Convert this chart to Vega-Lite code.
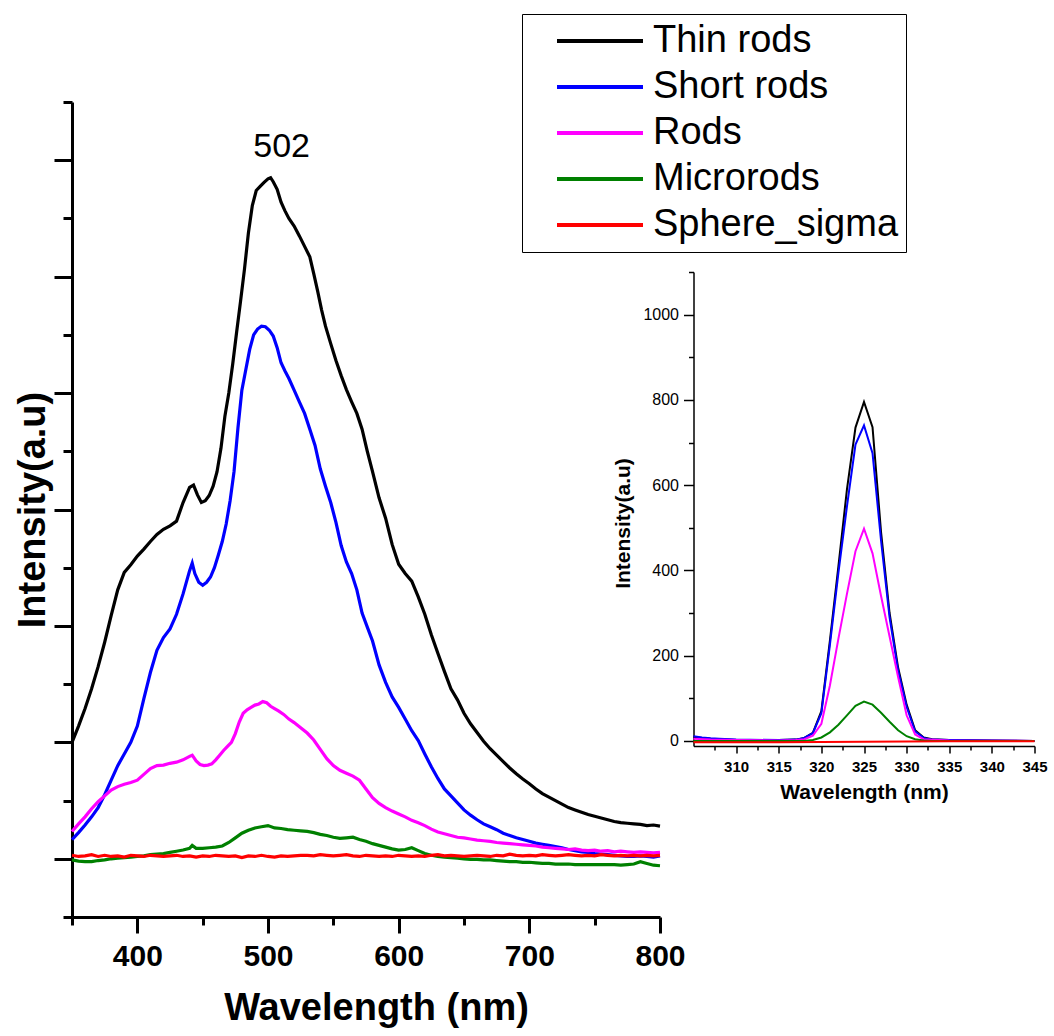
{
"$schema": "https://vega.github.io/schema/vega-lite/v6.json",
"background": "white",
"padding": {"left": 14, "top": 13, "right": 4, "bottom": 2},
"config": {"view": {"stroke": null}, "font": "Liberation Sans", "axis": {"grid": false, "domainColor": "#000", "tickColor": "#000", "labelColor": "#000", "titleColor": "#000"}},
"bounds": "flush",
"spacing": 33.5,
"resolve": {"scale": {"color": "independent"}, "legend": {"color": "independent"}},
"datasets": {
"main": [
{"sample":"Thin rods","wl":350,"int":200},{"sample":"Thin rods","wl":355,"int":228},{"sample":"Thin rods","wl":360,"int":258},{"sample":"Thin rods","wl":365,"int":292},{"sample":"Thin rods","wl":370,"int":330},{"sample":"Thin rods","wl":375,"int":372},{"sample":"Thin rods","wl":380,"int":418},{"sample":"Thin rods","wl":385,"int":462},{"sample":"Thin rods","wl":390,"int":492},{"sample":"Thin rods","wl":395,"int":505},{"sample":"Thin rods","wl":400,"int":520},{"sample":"Thin rods","wl":405,"int":532},{"sample":"Thin rods","wl":410,"int":545},{"sample":"Thin rods","wl":415,"int":557},{"sample":"Thin rods","wl":420,"int":566},{"sample":"Thin rods","wl":425,"int":572},{"sample":"Thin rods","wl":430,"int":580},{"sample":"Thin rods","wl":435,"int":612},{"sample":"Thin rods","wl":440,"int":638},{"sample":"Thin rods","wl":443,"int":642},{"sample":"Thin rods","wl":446,"int":625},{"sample":"Thin rods","wl":449,"int":612},{"sample":"Thin rods","wl":452,"int":615},{"sample":"Thin rods","wl":455,"int":624},{"sample":"Thin rods","wl":458,"int":640},{"sample":"Thin rods","wl":461,"int":665},{"sample":"Thin rods","wl":464,"int":705},{"sample":"Thin rods","wl":467,"int":760},{"sample":"Thin rods","wl":470,"int":800},{"sample":"Thin rods","wl":473,"int":850},{"sample":"Thin rods","wl":476,"int":905},{"sample":"Thin rods","wl":479,"int":958},{"sample":"Thin rods","wl":482,"int":1013},{"sample":"Thin rods","wl":485,"int":1075},{"sample":"Thin rods","wl":488,"int":1122},{"sample":"Thin rods","wl":491,"int":1148},{"sample":"Thin rods","wl":494,"int":1155},{"sample":"Thin rods","wl":497,"int":1162},{"sample":"Thin rods","wl":500,"int":1168},{"sample":"Thin rods","wl":502,"int":1170},{"sample":"Thin rods","wl":504,"int":1163},{"sample":"Thin rods","wl":507,"int":1150},{"sample":"Thin rods","wl":510,"int":1128},{"sample":"Thin rods","wl":513,"int":1113},{"sample":"Thin rods","wl":516,"int":1100},{"sample":"Thin rods","wl":520,"int":1087},{"sample":"Thin rods","wl":524,"int":1070},{"sample":"Thin rods","wl":528,"int":1052},{"sample":"Thin rods","wl":532,"int":1034},{"sample":"Thin rods","wl":535,"int":1005},{"sample":"Thin rods","wl":538,"int":975},{"sample":"Thin rods","wl":541,"int":943},{"sample":"Thin rods","wl":544,"int":915},{"sample":"Thin rods","wl":548,"int":885},{"sample":"Thin rods","wl":552,"int":856},{"sample":"Thin rods","wl":556,"int":830},{"sample":"Thin rods","wl":560,"int":806},{"sample":"Thin rods","wl":564,"int":785},{"sample":"Thin rods","wl":568,"int":765},{"sample":"Thin rods","wl":572,"int":738},{"sample":"Thin rods","wl":576,"int":700},{"sample":"Thin rods","wl":580,"int":665},{"sample":"Thin rods","wl":585,"int":620},{"sample":"Thin rods","wl":590,"int":585},{"sample":"Thin rods","wl":595,"int":540},{"sample":"Thin rods","wl":600,"int":506},{"sample":"Thin rods","wl":605,"int":490},{"sample":"Thin rods","wl":610,"int":477},{"sample":"Thin rods","wl":615,"int":450},{"sample":"Thin rods","wl":620,"int":420},{"sample":"Thin rods","wl":625,"int":385},{"sample":"Thin rods","wl":630,"int":353},{"sample":"Thin rods","wl":635,"int":322},{"sample":"Thin rods","wl":640,"int":292},{"sample":"Thin rods","wl":645,"int":273},{"sample":"Thin rods","wl":650,"int":250},{"sample":"Thin rods","wl":655,"int":232},{"sample":"Thin rods","wl":660,"int":217},{"sample":"Thin rods","wl":665,"int":202},{"sample":"Thin rods","wl":670,"int":189},{"sample":"Thin rods","wl":675,"int":178},{"sample":"Thin rods","wl":680,"int":167},{"sample":"Thin rods","wl":685,"int":156},{"sample":"Thin rods","wl":690,"int":146},{"sample":"Thin rods","wl":695,"int":137},{"sample":"Thin rods","wl":700,"int":129},{"sample":"Thin rods","wl":705,"int":120},{"sample":"Thin rods","wl":710,"int":112},{"sample":"Thin rods","wl":715,"int":106},{"sample":"Thin rods","wl":720,"int":100},{"sample":"Thin rods","wl":725,"int":94},{"sample":"Thin rods","wl":730,"int":88},{"sample":"Thin rods","wl":735,"int":84},{"sample":"Thin rods","wl":740,"int":80},{"sample":"Thin rods","wl":745,"int":76},{"sample":"Thin rods","wl":750,"int":73},{"sample":"Thin rods","wl":755,"int":70},{"sample":"Thin rods","wl":760,"int":67},{"sample":"Thin rods","wl":765,"int":64},{"sample":"Thin rods","wl":770,"int":62},{"sample":"Thin rods","wl":775,"int":61},{"sample":"Thin rods","wl":780,"int":60},{"sample":"Thin rods","wl":785,"int":59},{"sample":"Thin rods","wl":790,"int":57},{"sample":"Thin rods","wl":795,"int":58},{"sample":"Thin rods","wl":800,"int":56},
{"sample":"Short rods","wl":350,"int":33},{"sample":"Short rods","wl":355,"int":45},{"sample":"Short rods","wl":360,"int":58},{"sample":"Short rods","wl":365,"int":72},{"sample":"Short rods","wl":370,"int":88},{"sample":"Short rods","wl":375,"int":110},{"sample":"Short rods","wl":380,"int":135},{"sample":"Short rods","wl":385,"int":160},{"sample":"Short rods","wl":390,"int":180},{"sample":"Short rods","wl":395,"int":200},{"sample":"Short rods","wl":400,"int":228},{"sample":"Short rods","wl":405,"int":275},{"sample":"Short rods","wl":410,"int":320},{"sample":"Short rods","wl":415,"int":358},{"sample":"Short rods","wl":420,"int":380},{"sample":"Short rods","wl":425,"int":395},{"sample":"Short rods","wl":430,"int":420},{"sample":"Short rods","wl":435,"int":455},{"sample":"Short rods","wl":440,"int":495},{"sample":"Short rods","wl":442,"int":508},{"sample":"Short rods","wl":444,"int":490},{"sample":"Short rods","wl":447,"int":475},{"sample":"Short rods","wl":450,"int":470},{"sample":"Short rods","wl":453,"int":475},{"sample":"Short rods","wl":456,"int":484},{"sample":"Short rods","wl":459,"int":500},{"sample":"Short rods","wl":462,"int":522},{"sample":"Short rods","wl":465,"int":545},{"sample":"Short rods","wl":468,"int":575},{"sample":"Short rods","wl":471,"int":615},{"sample":"Short rods","wl":474,"int":665},{"sample":"Short rods","wl":477,"int":740},{"sample":"Short rods","wl":480,"int":805},{"sample":"Short rods","wl":483,"int":840},{"sample":"Short rods","wl":486,"int":875},{"sample":"Short rods","wl":489,"int":900},{"sample":"Short rods","wl":492,"int":910},{"sample":"Short rods","wl":495,"int":915},{"sample":"Short rods","wl":498,"int":914},{"sample":"Short rods","wl":501,"int":908},{"sample":"Short rods","wl":504,"int":898},{"sample":"Short rods","wl":507,"int":878},{"sample":"Short rods","wl":510,"int":852},{"sample":"Short rods","wl":513,"int":838},{"sample":"Short rods","wl":516,"int":825},{"sample":"Short rods","wl":520,"int":805},{"sample":"Short rods","wl":524,"int":785},{"sample":"Short rods","wl":528,"int":765},{"sample":"Short rods","wl":532,"int":738},{"sample":"Short rods","wl":536,"int":710},{"sample":"Short rods","wl":540,"int":670},{"sample":"Short rods","wl":544,"int":640},{"sample":"Short rods","wl":548,"int":612},{"sample":"Short rods","wl":552,"int":578},{"sample":"Short rods","wl":556,"int":538},{"sample":"Short rods","wl":560,"int":510},{"sample":"Short rods","wl":564,"int":490},{"sample":"Short rods","wl":568,"int":462},{"sample":"Short rods","wl":572,"int":422},{"sample":"Short rods","wl":576,"int":398},{"sample":"Short rods","wl":580,"int":374},{"sample":"Short rods","wl":585,"int":333},{"sample":"Short rods","wl":590,"int":303},{"sample":"Short rods","wl":595,"int":278},{"sample":"Short rods","wl":600,"int":260},{"sample":"Short rods","wl":605,"int":240},{"sample":"Short rods","wl":610,"int":220},{"sample":"Short rods","wl":615,"int":203},{"sample":"Short rods","wl":620,"int":180},{"sample":"Short rods","wl":625,"int":158},{"sample":"Short rods","wl":630,"int":138},{"sample":"Short rods","wl":635,"int":120},{"sample":"Short rods","wl":640,"int":108},{"sample":"Short rods","wl":645,"int":96},{"sample":"Short rods","wl":650,"int":84},{"sample":"Short rods","wl":655,"int":75},{"sample":"Short rods","wl":660,"int":67},{"sample":"Short rods","wl":665,"int":60},{"sample":"Short rods","wl":670,"int":55},{"sample":"Short rods","wl":675,"int":50},{"sample":"Short rods","wl":680,"int":44},{"sample":"Short rods","wl":685,"int":40},{"sample":"Short rods","wl":690,"int":36},{"sample":"Short rods","wl":695,"int":33},{"sample":"Short rods","wl":700,"int":30},{"sample":"Short rods","wl":705,"int":27},{"sample":"Short rods","wl":710,"int":25},{"sample":"Short rods","wl":715,"int":23},{"sample":"Short rods","wl":720,"int":21},{"sample":"Short rods","wl":725,"int":19},{"sample":"Short rods","wl":730,"int":16},{"sample":"Short rods","wl":735,"int":14},{"sample":"Short rods","wl":740,"int":12},{"sample":"Short rods","wl":745,"int":11},{"sample":"Short rods","wl":750,"int":9},{"sample":"Short rods","wl":755,"int":8},{"sample":"Short rods","wl":760,"int":7},{"sample":"Short rods","wl":765,"int":6},{"sample":"Short rods","wl":770,"int":5},{"sample":"Short rods","wl":775,"int":4},{"sample":"Short rods","wl":780,"int":4},{"sample":"Short rods","wl":785,"int":5},{"sample":"Short rods","wl":790,"int":4},{"sample":"Short rods","wl":795,"int":3},{"sample":"Short rods","wl":800,"int":5},
{"sample":"Rods","wl":350,"int":47},{"sample":"Rods","wl":355,"int":60},{"sample":"Rods","wl":360,"int":72},{"sample":"Rods","wl":365,"int":86},{"sample":"Rods","wl":370,"int":98},{"sample":"Rods","wl":375,"int":108},{"sample":"Rods","wl":380,"int":118},{"sample":"Rods","wl":385,"int":124},{"sample":"Rods","wl":390,"int":128},{"sample":"Rods","wl":395,"int":131},{"sample":"Rods","wl":400,"int":135},{"sample":"Rods","wl":405,"int":145},{"sample":"Rods","wl":410,"int":155},{"sample":"Rods","wl":415,"int":160},{"sample":"Rods","wl":420,"int":161},{"sample":"Rods","wl":425,"int":164},{"sample":"Rods","wl":430,"int":166},{"sample":"Rods","wl":435,"int":170},{"sample":"Rods","wl":440,"int":176},{"sample":"Rods","wl":442,"int":178},{"sample":"Rods","wl":445,"int":168},{"sample":"Rods","wl":448,"int":162},{"sample":"Rods","wl":451,"int":160},{"sample":"Rods","wl":454,"int":161},{"sample":"Rods","wl":457,"int":163},{"sample":"Rods","wl":460,"int":170},{"sample":"Rods","wl":463,"int":178},{"sample":"Rods","wl":466,"int":186},{"sample":"Rods","wl":469,"int":193},{"sample":"Rods","wl":472,"int":200},{"sample":"Rods","wl":475,"int":215},{"sample":"Rods","wl":478,"int":235},{"sample":"Rods","wl":481,"int":250},{"sample":"Rods","wl":484,"int":256},{"sample":"Rods","wl":487,"int":260},{"sample":"Rods","wl":490,"int":264},{"sample":"Rods","wl":493,"int":266},{"sample":"Rods","wl":496,"int":270},{"sample":"Rods","wl":499,"int":268},{"sample":"Rods","wl":502,"int":262},{"sample":"Rods","wl":505,"int":258},{"sample":"Rods","wl":508,"int":254},{"sample":"Rods","wl":512,"int":248},{"sample":"Rods","wl":516,"int":240},{"sample":"Rods","wl":520,"int":234},{"sample":"Rods","wl":525,"int":225},{"sample":"Rods","wl":530,"int":216},{"sample":"Rods","wl":535,"int":204},{"sample":"Rods","wl":540,"int":188},{"sample":"Rods","wl":545,"int":172},{"sample":"Rods","wl":550,"int":160},{"sample":"Rods","wl":555,"int":152},{"sample":"Rods","wl":560,"int":147},{"sample":"Rods","wl":565,"int":142},{"sample":"Rods","wl":570,"int":135},{"sample":"Rods","wl":575,"int":120},{"sample":"Rods","wl":580,"int":105},{"sample":"Rods","wl":585,"int":95},{"sample":"Rods","wl":590,"int":88},{"sample":"Rods","wl":595,"int":82},{"sample":"Rods","wl":600,"int":77},{"sample":"Rods","wl":605,"int":72},{"sample":"Rods","wl":610,"int":66},{"sample":"Rods","wl":615,"int":62},{"sample":"Rods","wl":620,"int":57},{"sample":"Rods","wl":625,"int":51},{"sample":"Rods","wl":630,"int":46},{"sample":"Rods","wl":635,"int":43},{"sample":"Rods","wl":640,"int":40},{"sample":"Rods","wl":645,"int":37},{"sample":"Rods","wl":650,"int":36},{"sample":"Rods","wl":655,"int":34},{"sample":"Rods","wl":660,"int":32},{"sample":"Rods","wl":665,"int":31},{"sample":"Rods","wl":670,"int":30},{"sample":"Rods","wl":675,"int":28},{"sample":"Rods","wl":680,"int":27},{"sample":"Rods","wl":685,"int":26},{"sample":"Rods","wl":690,"int":25},{"sample":"Rods","wl":695,"int":24},{"sample":"Rods","wl":700,"int":23},{"sample":"Rods","wl":705,"int":22},{"sample":"Rods","wl":710,"int":20},{"sample":"Rods","wl":715,"int":19},{"sample":"Rods","wl":720,"int":18},{"sample":"Rods","wl":725,"int":17},{"sample":"Rods","wl":730,"int":16},{"sample":"Rods","wl":735,"int":17},{"sample":"Rods","wl":740,"int":15},{"sample":"Rods","wl":745,"int":14},{"sample":"Rods","wl":750,"int":15},{"sample":"Rods","wl":755,"int":13},{"sample":"Rods","wl":760,"int":14},{"sample":"Rods","wl":765,"int":12},{"sample":"Rods","wl":770,"int":13},{"sample":"Rods","wl":775,"int":12},{"sample":"Rods","wl":780,"int":11},{"sample":"Rods","wl":785,"int":12},{"sample":"Rods","wl":790,"int":11},{"sample":"Rods","wl":795,"int":10},{"sample":"Rods","wl":800,"int":11},
{"sample":"Microrods","wl":350,"int":-2},{"sample":"Microrods","wl":355,"int":-4},{"sample":"Microrods","wl":360,"int":-5},{"sample":"Microrods","wl":365,"int":-5},{"sample":"Microrods","wl":370,"int":-3},{"sample":"Microrods","wl":375,"int":-2},{"sample":"Microrods","wl":380,"int":0},{"sample":"Microrods","wl":385,"int":1},{"sample":"Microrods","wl":390,"int":2},{"sample":"Microrods","wl":395,"int":3},{"sample":"Microrods","wl":400,"int":4},{"sample":"Microrods","wl":405,"int":5},{"sample":"Microrods","wl":410,"int":7},{"sample":"Microrods","wl":415,"int":8},{"sample":"Microrods","wl":420,"int":9},{"sample":"Microrods","wl":425,"int":11},{"sample":"Microrods","wl":430,"int":13},{"sample":"Microrods","wl":435,"int":15},{"sample":"Microrods","wl":440,"int":18},{"sample":"Microrods","wl":442,"int":23},{"sample":"Microrods","wl":445,"int":18},{"sample":"Microrods","wl":450,"int":18},{"sample":"Microrods","wl":455,"int":19},{"sample":"Microrods","wl":460,"int":20},{"sample":"Microrods","wl":465,"int":22},{"sample":"Microrods","wl":470,"int":28},{"sample":"Microrods","wl":475,"int":36},{"sample":"Microrods","wl":480,"int":44},{"sample":"Microrods","wl":485,"int":49},{"sample":"Microrods","wl":490,"int":53},{"sample":"Microrods","wl":495,"int":55},{"sample":"Microrods","wl":500,"int":57},{"sample":"Microrods","wl":505,"int":53},{"sample":"Microrods","wl":510,"int":52},{"sample":"Microrods","wl":515,"int":50},{"sample":"Microrods","wl":520,"int":49},{"sample":"Microrods","wl":525,"int":48},{"sample":"Microrods","wl":530,"int":47},{"sample":"Microrods","wl":535,"int":45},{"sample":"Microrods","wl":540,"int":42},{"sample":"Microrods","wl":545,"int":40},{"sample":"Microrods","wl":550,"int":37},{"sample":"Microrods","wl":555,"int":35},{"sample":"Microrods","wl":560,"int":36},{"sample":"Microrods","wl":565,"int":37},{"sample":"Microrods","wl":570,"int":33},{"sample":"Microrods","wl":575,"int":30},{"sample":"Microrods","wl":580,"int":26},{"sample":"Microrods","wl":585,"int":23},{"sample":"Microrods","wl":590,"int":20},{"sample":"Microrods","wl":595,"int":17},{"sample":"Microrods","wl":600,"int":15},{"sample":"Microrods","wl":605,"int":16},{"sample":"Microrods","wl":610,"int":19},{"sample":"Microrods","wl":615,"int":14},{"sample":"Microrods","wl":620,"int":9},{"sample":"Microrods","wl":625,"int":6},{"sample":"Microrods","wl":630,"int":4},{"sample":"Microrods","wl":635,"int":3},{"sample":"Microrods","wl":640,"int":2},{"sample":"Microrods","wl":645,"int":1},{"sample":"Microrods","wl":650,"int":0},{"sample":"Microrods","wl":655,"int":-1},{"sample":"Microrods","wl":660,"int":-1},{"sample":"Microrods","wl":665,"int":-2},{"sample":"Microrods","wl":670,"int":-2},{"sample":"Microrods","wl":675,"int":-3},{"sample":"Microrods","wl":680,"int":-4},{"sample":"Microrods","wl":685,"int":-5},{"sample":"Microrods","wl":690,"int":-5},{"sample":"Microrods","wl":695,"int":-6},{"sample":"Microrods","wl":700,"int":-6},{"sample":"Microrods","wl":705,"int":-7},{"sample":"Microrods","wl":710,"int":-8},{"sample":"Microrods","wl":715,"int":-8},{"sample":"Microrods","wl":720,"int":-9},{"sample":"Microrods","wl":725,"int":-9},{"sample":"Microrods","wl":730,"int":-9},{"sample":"Microrods","wl":735,"int":-10},{"sample":"Microrods","wl":740,"int":-10},{"sample":"Microrods","wl":745,"int":-10},{"sample":"Microrods","wl":750,"int":-10},{"sample":"Microrods","wl":755,"int":-10},{"sample":"Microrods","wl":760,"int":-10},{"sample":"Microrods","wl":765,"int":-10},{"sample":"Microrods","wl":770,"int":-11},{"sample":"Microrods","wl":775,"int":-10},{"sample":"Microrods","wl":780,"int":-9},{"sample":"Microrods","wl":785,"int":-5},{"sample":"Microrods","wl":790,"int":-8},{"sample":"Microrods","wl":795,"int":-11},{"sample":"Microrods","wl":800,"int":-12},
{"sample":"Sphere_sigma","wl":350,"int":6},{"sample":"Sphere_sigma","wl":355,"int":4},{"sample":"Sphere_sigma","wl":360,"int":5},{"sample":"Sphere_sigma","wl":365,"int":7},{"sample":"Sphere_sigma","wl":370,"int":4},{"sample":"Sphere_sigma","wl":375,"int":6},{"sample":"Sphere_sigma","wl":380,"int":4},{"sample":"Sphere_sigma","wl":385,"int":5},{"sample":"Sphere_sigma","wl":390,"int":3},{"sample":"Sphere_sigma","wl":395,"int":6},{"sample":"Sphere_sigma","wl":400,"int":5},{"sample":"Sphere_sigma","wl":405,"int":4},{"sample":"Sphere_sigma","wl":410,"int":6},{"sample":"Sphere_sigma","wl":415,"int":5},{"sample":"Sphere_sigma","wl":420,"int":4},{"sample":"Sphere_sigma","wl":425,"int":5},{"sample":"Sphere_sigma","wl":430,"int":6},{"sample":"Sphere_sigma","wl":435,"int":4},{"sample":"Sphere_sigma","wl":440,"int":5},{"sample":"Sphere_sigma","wl":445,"int":3},{"sample":"Sphere_sigma","wl":450,"int":5},{"sample":"Sphere_sigma","wl":455,"int":4},{"sample":"Sphere_sigma","wl":460,"int":6},{"sample":"Sphere_sigma","wl":465,"int":5},{"sample":"Sphere_sigma","wl":470,"int":4},{"sample":"Sphere_sigma","wl":475,"int":5},{"sample":"Sphere_sigma","wl":480,"int":2},{"sample":"Sphere_sigma","wl":485,"int":5},{"sample":"Sphere_sigma","wl":490,"int":4},{"sample":"Sphere_sigma","wl":495,"int":6},{"sample":"Sphere_sigma","wl":500,"int":4},{"sample":"Sphere_sigma","wl":505,"int":3},{"sample":"Sphere_sigma","wl":510,"int":5},{"sample":"Sphere_sigma","wl":515,"int":4},{"sample":"Sphere_sigma","wl":520,"int":5},{"sample":"Sphere_sigma","wl":525,"int":6},{"sample":"Sphere_sigma","wl":530,"int":6},{"sample":"Sphere_sigma","wl":535,"int":5},{"sample":"Sphere_sigma","wl":540,"int":7},{"sample":"Sphere_sigma","wl":545,"int":6},{"sample":"Sphere_sigma","wl":550,"int":5},{"sample":"Sphere_sigma","wl":555,"int":6},{"sample":"Sphere_sigma","wl":560,"int":7},{"sample":"Sphere_sigma","wl":565,"int":5},{"sample":"Sphere_sigma","wl":570,"int":4},{"sample":"Sphere_sigma","wl":575,"int":6},{"sample":"Sphere_sigma","wl":580,"int":5},{"sample":"Sphere_sigma","wl":585,"int":4},{"sample":"Sphere_sigma","wl":590,"int":5},{"sample":"Sphere_sigma","wl":595,"int":4},{"sample":"Sphere_sigma","wl":600,"int":6},{"sample":"Sphere_sigma","wl":605,"int":5},{"sample":"Sphere_sigma","wl":610,"int":4},{"sample":"Sphere_sigma","wl":615,"int":5},{"sample":"Sphere_sigma","wl":620,"int":4},{"sample":"Sphere_sigma","wl":625,"int":6},{"sample":"Sphere_sigma","wl":630,"int":7},{"sample":"Sphere_sigma","wl":635,"int":5},{"sample":"Sphere_sigma","wl":640,"int":6},{"sample":"Sphere_sigma","wl":645,"int":5},{"sample":"Sphere_sigma","wl":650,"int":4},{"sample":"Sphere_sigma","wl":655,"int":5},{"sample":"Sphere_sigma","wl":660,"int":6},{"sample":"Sphere_sigma","wl":665,"int":5},{"sample":"Sphere_sigma","wl":670,"int":4},{"sample":"Sphere_sigma","wl":675,"int":6},{"sample":"Sphere_sigma","wl":680,"int":5},{"sample":"Sphere_sigma","wl":685,"int":8},{"sample":"Sphere_sigma","wl":690,"int":6},{"sample":"Sphere_sigma","wl":695,"int":5},{"sample":"Sphere_sigma","wl":700,"int":6},{"sample":"Sphere_sigma","wl":705,"int":5},{"sample":"Sphere_sigma","wl":710,"int":7},{"sample":"Sphere_sigma","wl":715,"int":6},{"sample":"Sphere_sigma","wl":720,"int":5},{"sample":"Sphere_sigma","wl":725,"int":6},{"sample":"Sphere_sigma","wl":730,"int":7},{"sample":"Sphere_sigma","wl":735,"int":6},{"sample":"Sphere_sigma","wl":740,"int":5},{"sample":"Sphere_sigma","wl":745,"int":6},{"sample":"Sphere_sigma","wl":750,"int":5},{"sample":"Sphere_sigma","wl":755,"int":7},{"sample":"Sphere_sigma","wl":760,"int":6},{"sample":"Sphere_sigma","wl":765,"int":5},{"sample":"Sphere_sigma","wl":770,"int":6},{"sample":"Sphere_sigma","wl":775,"int":5},{"sample":"Sphere_sigma","wl":780,"int":6},{"sample":"Sphere_sigma","wl":785,"int":5},{"sample":"Sphere_sigma","wl":790,"int":6},{"sample":"Sphere_sigma","wl":795,"int":5},{"sample":"Sphere_sigma","wl":800,"int":6}
],
"inset": [
{"sample":"Thin rods","wl":305,"int":9},{"sample":"Thin rods","wl":306,"int":7},{"sample":"Thin rods","wl":307,"int":5},{"sample":"Thin rods","wl":308,"int":4},{"sample":"Thin rods","wl":310,"int":2},{"sample":"Thin rods","wl":315,"int":2},{"sample":"Thin rods","wl":317,"int":3},{"sample":"Thin rods","wl":318,"int":7},{"sample":"Thin rods","wl":319,"int":19},{"sample":"Thin rods","wl":320,"int":70},{"sample":"Thin rods","wl":321,"int":235},{"sample":"Thin rods","wl":322,"int":410},{"sample":"Thin rods","wl":323,"int":590},{"sample":"Thin rods","wl":324,"int":735},{"sample":"Thin rods","wl":325,"int":795},{"sample":"Thin rods","wl":326,"int":736},{"sample":"Thin rods","wl":327,"int":490},{"sample":"Thin rods","wl":328,"int":300},{"sample":"Thin rods","wl":329,"int":172},{"sample":"Thin rods","wl":330,"int":85},{"sample":"Thin rods","wl":331,"int":25},{"sample":"Thin rods","wl":332,"int":8},{"sample":"Thin rods","wl":333,"int":4},{"sample":"Thin rods","wl":335,"int":2},{"sample":"Thin rods","wl":340,"int":1},{"sample":"Thin rods","wl":345,"int":0},
{"sample":"Short rods","wl":305,"int":11},{"sample":"Short rods","wl":306,"int":8},{"sample":"Short rods","wl":307,"int":6},{"sample":"Short rods","wl":308,"int":5},{"sample":"Short rods","wl":310,"int":3},{"sample":"Short rods","wl":315,"int":2},{"sample":"Short rods","wl":317,"int":3},{"sample":"Short rods","wl":318,"int":7},{"sample":"Short rods","wl":319,"int":18},{"sample":"Short rods","wl":320,"int":65},{"sample":"Short rods","wl":321,"int":225},{"sample":"Short rods","wl":322,"int":395},{"sample":"Short rods","wl":323,"int":550},{"sample":"Short rods","wl":324,"int":695},{"sample":"Short rods","wl":325,"int":740},{"sample":"Short rods","wl":326,"int":675},{"sample":"Short rods","wl":327,"int":470},{"sample":"Short rods","wl":328,"int":290},{"sample":"Short rods","wl":329,"int":165},{"sample":"Short rods","wl":330,"int":80},{"sample":"Short rods","wl":331,"int":22},{"sample":"Short rods","wl":332,"int":7},{"sample":"Short rods","wl":333,"int":3},{"sample":"Short rods","wl":335,"int":2},{"sample":"Short rods","wl":340,"int":1},{"sample":"Short rods","wl":345,"int":0},
{"sample":"Rods","wl":305,"int":5},{"sample":"Rods","wl":307,"int":3},{"sample":"Rods","wl":310,"int":2},{"sample":"Rods","wl":315,"int":1},{"sample":"Rods","wl":317,"int":2},{"sample":"Rods","wl":318,"int":4},{"sample":"Rods","wl":319,"int":12},{"sample":"Rods","wl":320,"int":40},{"sample":"Rods","wl":321,"int":130},{"sample":"Rods","wl":322,"int":240},{"sample":"Rods","wl":323,"int":345},{"sample":"Rods","wl":324,"int":445},{"sample":"Rods","wl":325,"int":498},{"sample":"Rods","wl":326,"int":440},{"sample":"Rods","wl":327,"int":340},{"sample":"Rods","wl":328,"int":245},{"sample":"Rods","wl":329,"int":150},{"sample":"Rods","wl":330,"int":60},{"sample":"Rods","wl":331,"int":15},{"sample":"Rods","wl":332,"int":4},{"sample":"Rods","wl":335,"int":1},{"sample":"Rods","wl":345,"int":0},
{"sample":"Microrods","wl":305,"int":0},{"sample":"Microrods","wl":318,"int":0},{"sample":"Microrods","wl":319,"int":2},{"sample":"Microrods","wl":320,"int":8},{"sample":"Microrods","wl":321,"int":20},{"sample":"Microrods","wl":322,"int":38},{"sample":"Microrods","wl":323,"int":60},{"sample":"Microrods","wl":324,"int":82},{"sample":"Microrods","wl":325,"int":92},{"sample":"Microrods","wl":326,"int":85},{"sample":"Microrods","wl":327,"int":66},{"sample":"Microrods","wl":328,"int":45},{"sample":"Microrods","wl":329,"int":25},{"sample":"Microrods","wl":330,"int":11},{"sample":"Microrods","wl":331,"int":4},{"sample":"Microrods","wl":332,"int":1},{"sample":"Microrods","wl":333,"int":0},{"sample":"Microrods","wl":345,"int":0},
{"sample":"Sphere_sigma","wl":305,"int":-3},{"sample":"Sphere_sigma","wl":315,"int":-3},{"sample":"Sphere_sigma","wl":325,"int":-2},{"sample":"Sphere_sigma","wl":335,"int":-1},{"sample":"Sphere_sigma","wl":345,"int":-1}
]
},
"hconcat": [
{
"width": 588,
"height": 815,
"layer": [
{
"data": {"name": "main"},
"mark": {"type": "line", "strokeWidth": 3.2},
"encoding": {
"x": {"field": "wl", "type": "quantitative", "scale": {"domain": [350, 800], "nice": false, "zero": false},
"axis": {"orient": "bottom", "values": [400, 500, 600, 700, 800], "tickSize": 16, "tickWidth": 3, "domainWidth": 3, "labelFont": "Liberation Sans", "labelFontWeight": "bold", "labelFontSize": 30, "labelPadding": 8, "labelFlush": false, "title": "Wavelength (nm)", "titleFont": "Liberation Sans", "titleFontSize": 38, "titleFontWeight": "bold", "titlePadding": 18, "titleX": 304}},
"y": {"field": "int", "type": "quantitative", "scale": {"domain": [-100, 1300], "nice": false, "zero": false},
"axis": {"orient": "left", "values": [0, 200, 400, 600, 800, 1000, 1200], "tickSize": 18, "tickWidth": 3, "domainWidth": 3, "labels": false, "title": "Intensity(a.u)", "titleFont": "Liberation Sans", "titleFontSize": 38, "titleFontWeight": "bold", "titlePadding": 0}},
"color": {"field": "sample", "type": "nominal",
"scale": {"domain": ["Thin rods", "Short rods", "Rods", "Microrods", "Sphere_sigma"], "range": ["#000000", "#0000ff", "#ff00ff", "#008000", "#ff0000"]},
"legend": {"orient": "none", "legendX": 450, "legendY": -88, "title": " ", "titleOrient": "left", "titleFontSize": 1, "titlePadding": 26, "padding": 7, "rowPadding": 6, "clipHeight": 40, "labelFont": "Liberation Sans", "labelFontSize": 38, "labelColor": "#000", "labelOffset": 8, "labelLimit": 500, "symbolType": "stroke", "symbolSize": 7396, "symbolStrokeWidth": 4, "strokeColor": "#000000", "fillColor": "#ffffff"}}
}
},
{
"data": {"values": [{"wl": 502, "int": 1223, "label": "502"}]},
"mark": {"type": "text", "dx": 11, "fontSize": 34, "font": "Liberation Sans", "baseline": "middle", "align": "center", "color": "#000"},
"encoding": {
"x": {"field": "wl", "type": "quantitative", "axis": {"orient": "bottom", "values": [350, 450, 550, 650, 750], "tickSize": 8, "tickWidth": 3, "domain": false, "labels": false, "title": null}},
"y": {"field": "int", "type": "quantitative", "axis": {"orient": "left", "values": [-100, 100, 300, 500, 700, 900, 1100, 1300], "tickSize": 9, "tickWidth": 3, "domain": false, "labels": false, "title": null}},
"text": {"field": "label"}
}
}
],
"resolve": {"axis": {"x": "independent", "y": "independent"}}
},
{
"vconcat": [
{
"width": 341,
"height": 160,
"data": {"values": [{}]},
"mark": {"type": "point", "opacity": 0}
},
{
"width": 341,
"height": 474,
"data": {"name": "inset"},
"layer": [
{
"transform": [{"filter": "datum.sample !== 'Sphere_sigma'"}],
"mark": {"type": "line", "strokeWidth": 2},
"encoding": {
"x": {"field": "wl", "type": "quantitative", "scale": {"domain": [305, 345], "nice": false, "zero": false},
"axis": {"orient": "bottom", "values": [310, 315, 320, 325, 330, 335, 340, 345], "tickSize": 7, "tickWidth": 1.5, "domainWidth": 1.5, "labelFont": "Liberation Sans", "labelFontWeight": "bold", "labelFontSize": 15, "labelPadding": 6, "labelFlush": false, "title": "Wavelength (nm)", "titleFont": "Liberation Sans", "titleFontSize": 21, "titleFontWeight": "bold", "titlePadding": 7}},
"y": {"field": "int", "type": "quantitative", "scale": {"domain": [-12, 1100], "nice": false, "zero": false},
"axis": {"orient": "left", "values": [0, 200, 400, 600, 800, 1000], "format": "d", "tickSize": 10, "tickWidth": 1.5, "domainWidth": 1.5, "labelFont": "Liberation Sans", "labelFontSize": 16, "labelPadding": 5, "title": "Intensity(a.u)", "titleFont": "Liberation Sans", "titleFontSize": 21, "titleFontWeight": "bold", "titlePadding": 9, "titleY": 251}},
"color": {"field": "sample", "type": "nominal", "scale": {"domain": ["Thin rods", "Short rods", "Rods", "Microrods", "Sphere_sigma"], "range": ["#000000", "#0000ff", "#ff00ff", "#008000", "#ff0000"]}, "legend": null}
}
},
{
"transform": [{"filter": "datum.sample === 'Sphere_sigma'"}],
"mark": {"type": "line", "strokeWidth": 2},
"encoding": {
"x": {"field": "wl", "type": "quantitative", "axis": {"orient": "bottom", "values": [307.5, 312.5, 317.5, 322.5, 327.5, 332.5, 337.5, 342.5], "tickSize": 4, "tickWidth": 1.5, "domain": false, "labels": false, "title": null}},
"y": {"field": "int", "type": "quantitative", "axis": {"orient": "left", "values": [100, 300, 500, 700, 900, 1100], "tickSize": 5, "tickWidth": 1.5, "domain": false, "labels": false, "title": null}},
"color": {"field": "sample", "type": "nominal", "legend": null}
}
}
],
"resolve": {"axis": {"x": "independent", "y": "independent"}}
}
],
"spacing": 10,
"bounds": "flush"
}
]
}
